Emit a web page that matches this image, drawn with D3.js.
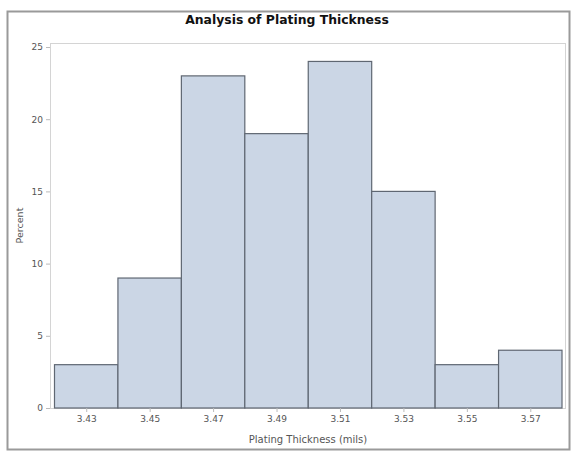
<!DOCTYPE html>
<html><head><meta charset="utf-8">
<script src="https://cdn.jsdelivr.net/npm/d3@7"></script>
<style>body{margin:0;background:#fff}svg{display:block}text{font-family:"DejaVu Sans",Verdana,sans-serif}</style>
</head><body>
<svg id="c" width="572" height="458"></svg>
<script>
const binStarts = [3.42, 3.44, 3.46, 3.48, 3.50, 3.52, 3.54, 3.56];
const binWidth = 0.02;
const percents = [3, 9, 23, 19, 24, 15, 3, 4];
const xTicks = [3.43, 3.45, 3.47, 3.49, 3.51, 3.53, 3.55, 3.57];
const yTicks = [0, 5, 10, 15, 20, 25];
const title = "Analysis of Plating Thickness";
const xLabel = "Plating Thickness (mils)";
const yLabel = "Percent";

const FONT = "DejaVu Sans, Verdana, sans-serif";
const svg = d3.select("#c");
// outer frame
svg.append("rect").attr("x",7.5).attr("y",11.5).attr("width",562).attr("height",438)
  .attr("fill","#fff").attr("stroke","#9a9a9a").attr("stroke-width",2);

const frame = {l:50, t:43, r:565, b:408};
const x = d3.scaleLinear().domain([3.42, 3.58]).range([54.5, 562]);
const y = d3.scaleLinear().domain([0, 25]).range([408, 47]);

// plot frame
svg.append("rect").attr("x",frame.l+0.5).attr("y",frame.t+0.5)
  .attr("width",frame.r-frame.l).attr("height",frame.b-frame.t)
  .attr("fill","none").attr("stroke","#d4d4d4").attr("stroke-width",1);

svg.append("text").attr("x",287).attr("y",24).attr("text-anchor","middle")
  .attr("font-size",12.4).attr("font-weight","bold").attr("fill","#111").text(title);

// bars
svg.append("g").selectAll("rect").data(binStarts).join("rect")
  .attr("x",(d)=>x(d))
  .attr("y",(d,i)=>y(percents[i]))
  .attr("width",(d)=>x(d+binWidth)-x(d))
  .attr("height",(d,i)=>y(0)-y(percents[i]))
  .attr("fill","#cbd6e5").attr("stroke","#5f6772").attr("stroke-width",1.2);

// y axis
const ya = svg.append("g").attr("transform",`translate(${frame.l},0)`)
  .call(d3.axisLeft(y).tickValues(yTicks).tickSize(4).tickPadding(3).tickFormat(d3.format("d")));
ya.select(".domain").remove();
ya.selectAll("line").attr("stroke","#bbb");
ya.selectAll("text").attr("font-size",9).attr("fill","#555").attr("font-family",FONT);

// x axis
const xa = svg.append("g").attr("transform",`translate(0,${frame.b})`)
  .call(d3.axisBottom(x).tickValues(xTicks).tickSize(4).tickPadding(4).tickFormat(d3.format(".2f")));
xa.select(".domain").remove();
xa.selectAll("line").attr("stroke","#bbb");
xa.selectAll("text").attr("font-size",9).attr("fill","#555").attr("font-family",FONT);

svg.append("text").attr("x",308).attr("y",443).attr("text-anchor","middle")
  .attr("font-size",10).attr("fill","#555").text(xLabel);
svg.append("text").attr("transform",`translate(23,${(frame.t+frame.b)/2}) rotate(-90)`)
  .attr("text-anchor","middle").attr("font-size",9.5).attr("fill","#555").text(yLabel);
</script>
</body></html>
